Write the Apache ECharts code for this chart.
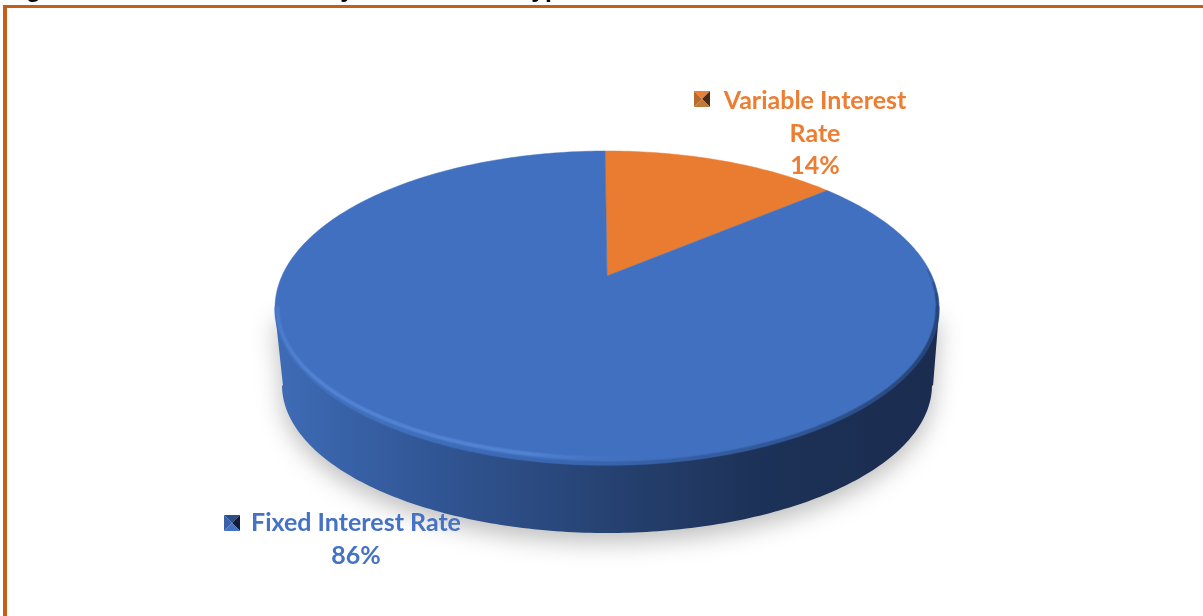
<!DOCTYPE html>
<html>
<head>
    <meta charset="utf-8">
    <title>Interest rate type</title>
    <style>
        html, body { margin: 0; padding: 0; background: #fff; }
        #chart { width: 1203px; height: 616px; }
    </style>
</head>
<body>
<div id="chart"></div>
<script src="https://cdn.jsdelivr.net/npm/echarts@6/dist/echarts.min.js"></script>
<script>
    var captionText = 'Figure 6: The Internal Debt by Interest Rate Type';
    var categories = ['Variable Interest Rate', 'Fixed Interest Rate'];
    var labelLines = ['Variable Interest\nRate', 'Fixed Interest Rate'];
    var values = [14, 86];

    var colors = ['#E97C30', '#4070BF'];
    var textColors = ['#ED7D31', '#4472C4'];
    var iconColors = [
        ['#E8803A', '#4A2A10', '#C47838', '#B86A2A'],
        ['#2D4D8A', '#101D38', '#4472C4', '#3A62A8']
    ];
    var total = values.reduce(function (a, b) { return a + b; }, 0);

    // top face of the disc, seen in perspective
    var cx = 607, cy = 308, rx = 332, ry = 157;
    var tilt = 0.204;   // moves the pie centre up from the ellipse centre
    var startDeg = -0.4;

    function project(deg, r) {
        var a = deg * Math.PI / 180;
        var x = r * Math.sin(a), y = r * Math.cos(a);
        var w = 1 + tilt * y;
        return [
            cx + rx * Math.sqrt(1 - tilt * tilt) * x / w,
            cy - ry * (y + tilt) / w
        ];
    }

    function slicePoints(fromDeg, toDeg) {
        var pts = [project(0, 0)];
        var n = Math.max(4, Math.round(toDeg - fromDeg));
        for (var i = 0; i <= n; i++) {
            pts.push(project(fromDeg + (toDeg - fromDeg) * i / n, 1));
        }
        return pts;
    }

    function arcPoints(x, y, a, b, fromDeg, toDeg) {
        var pts = [];
        for (var d = fromDeg; d <= toDeg; d += 1) {
            var t = d * Math.PI / 180;
            pts.push([x + a * Math.cos(t), y + b * Math.sin(t)]);
        }
        return pts;
    }

    function hGrad(stops) {
        return {
            type: 'linear', x: cx - rx, y: 0, x2: cx + rx, y2: 0, global: true,
            colorStops: stops
        };
    }

    function wall() {
        var pts = [[cx + rx, cy + 4], [cx + rx - 6, cy + 78]]
            .concat(arcPoints(cx, cy + 77, rx - 7, 148, 0, 180))
            .concat([[cx - rx + 8, cy + 78], [cx - rx, cy + 4]]);
        return {
            type: 'polygon',
            shape: {points: pts},
            style: {
                fill: hGrad([
                    {offset: 0, color: '#3E6CB6'},
                    {offset: 0.2, color: '#33599A'},
                    {offset: 0.5, color: '#264272'},
                    {offset: 0.72, color: '#1D3258'},
                    {offset: 1, color: '#1A2C4F'}
                ]),
                shadowColor: 'rgba(0,0,0,0.26)',
                shadowBlur: 24,
                shadowOffsetY: 9
            }
        };
    }

    function rimLine(pts, stroke, width, opacity) {
        return {
            type: 'polyline',
            shape: {points: pts},
            style: {fill: 'none', stroke: stroke, lineWidth: width, opacity: opacity, lineCap: 'round'}
        };
    }

    function rim() {
        var edgeGrad = hGrad([
            {offset: 0, color: '#4070BF'},
            {offset: 0.2, color: '#3F6EBB'},
            {offset: 0.5, color: '#3560A6'},
            {offset: 0.8, color: '#2A4C86'},
            {offset: 1, color: '#1E3560'}
        ]);
        var glowGrad = hGrad([
            {offset: 0, color: 'rgba(92,140,220,0.5)'},
            {offset: 0.06, color: 'rgba(92,140,220,1)'},
            {offset: 0.38, color: 'rgba(92,140,220,1)'},
            {offset: 0.56, color: 'rgba(64,112,191,0)'},
            {offset: 1, color: 'rgba(64,112,191,0)'}
        ]);
        var out = [];
        // soft dark edge where the face meets the wall, fading out on the right shoulder
        [-14, -9, -5, 0].forEach(function (start, k) {
            out.push(rimLine(arcPoints(cx, cy, rx - 1.5, ry - 1.5, start, 180), edgeGrad, 2 + k, 0.3));
        });
        [5, 4, 3, 2].forEach(function (w) {
            out.push(rimLine(arcPoints(cx, cy, rx - 2.5, ry - 7, 0, 180), glowGrad, w, 0.22));
        });
        return out;
    }

    function icon(x, y, s, c) {
        var m = [x + s / 2, y + s / 2];
        var a = [x, y], b = [x + s, y], d = [x + s, y + s], e = [x, y + s];
        return [[a, b], [b, d], [d, e], [e, a]].map(function (p, k) {
            return {type: 'polygon', shape: {points: [p[0], p[1], m]}, style: {fill: c[k]}};
        });
    }

    var iconPos = [[694, 91], [224, 515]];
    var labelPos = [[815, 85], [356, 507]];

    function renderSlice(params, api) {
        var i = params.dataIndex;
        var before = 0;
        for (var k = 0; k < i; k++) before += values[k];
        var from = startDeg + before / total * 360;
        var to = startDeg + (before + api.value(0)) / total * 360;

        var children = [];
        if (i === 0) children.push(wall());
        children.push({
            type: 'polygon',
            shape: {points: slicePoints(from, to)},
            style: {fill: colors[i], stroke: colors[i], lineWidth: 0.5}
        });
        if (i === values.length - 1) children = children.concat(rim());
        children = children.concat(icon(iconPos[i][0], iconPos[i][1], 16, iconColors[i]));
        children.push({
            type: 'text',
            x: labelPos[i][0],
            y: labelPos[i][1],
            style: {
                text: labelLines[i] + '\n' + Math.round(api.value(0) / total * 100) + '%',
                fill: textColors[i],
                font: 'bold 25px Lato',
                lineHeight: 32.5,
                align: 'center',
                verticalAlign: 'top'
            }
        });
        return {type: 'group', children: children};
    }

    var chart = echarts.init(document.getElementById('chart'));
    chart.setOption({
        animation: false,
        backgroundColor: '#fff',
        tooltip: {show: false},
        graphic: [
            {type: 'text', x: 4, y: 3, style: {text: captionText, fill: '#000', font: 'bold 24.8px "Liberation Sans"', verticalAlign: 'bottom'}},
            {type: 'rect', shape: {x: 3, y: 5, width: 1200, height: 3}, style: {fill: '#C55F17'}},
            {type: 'rect', shape: {x: 3, y: 5, width: 4, height: 611}, style: {fill: '#C55F17'}}
        ],
        series: [{
            type: 'custom',
            coordinateSystem: 'none',
            renderItem: renderSlice,
            data: values.map(function (v, i) { return {name: categories[i], value: [v]}; })
        }]
    });
</script>
</body>
</html>
